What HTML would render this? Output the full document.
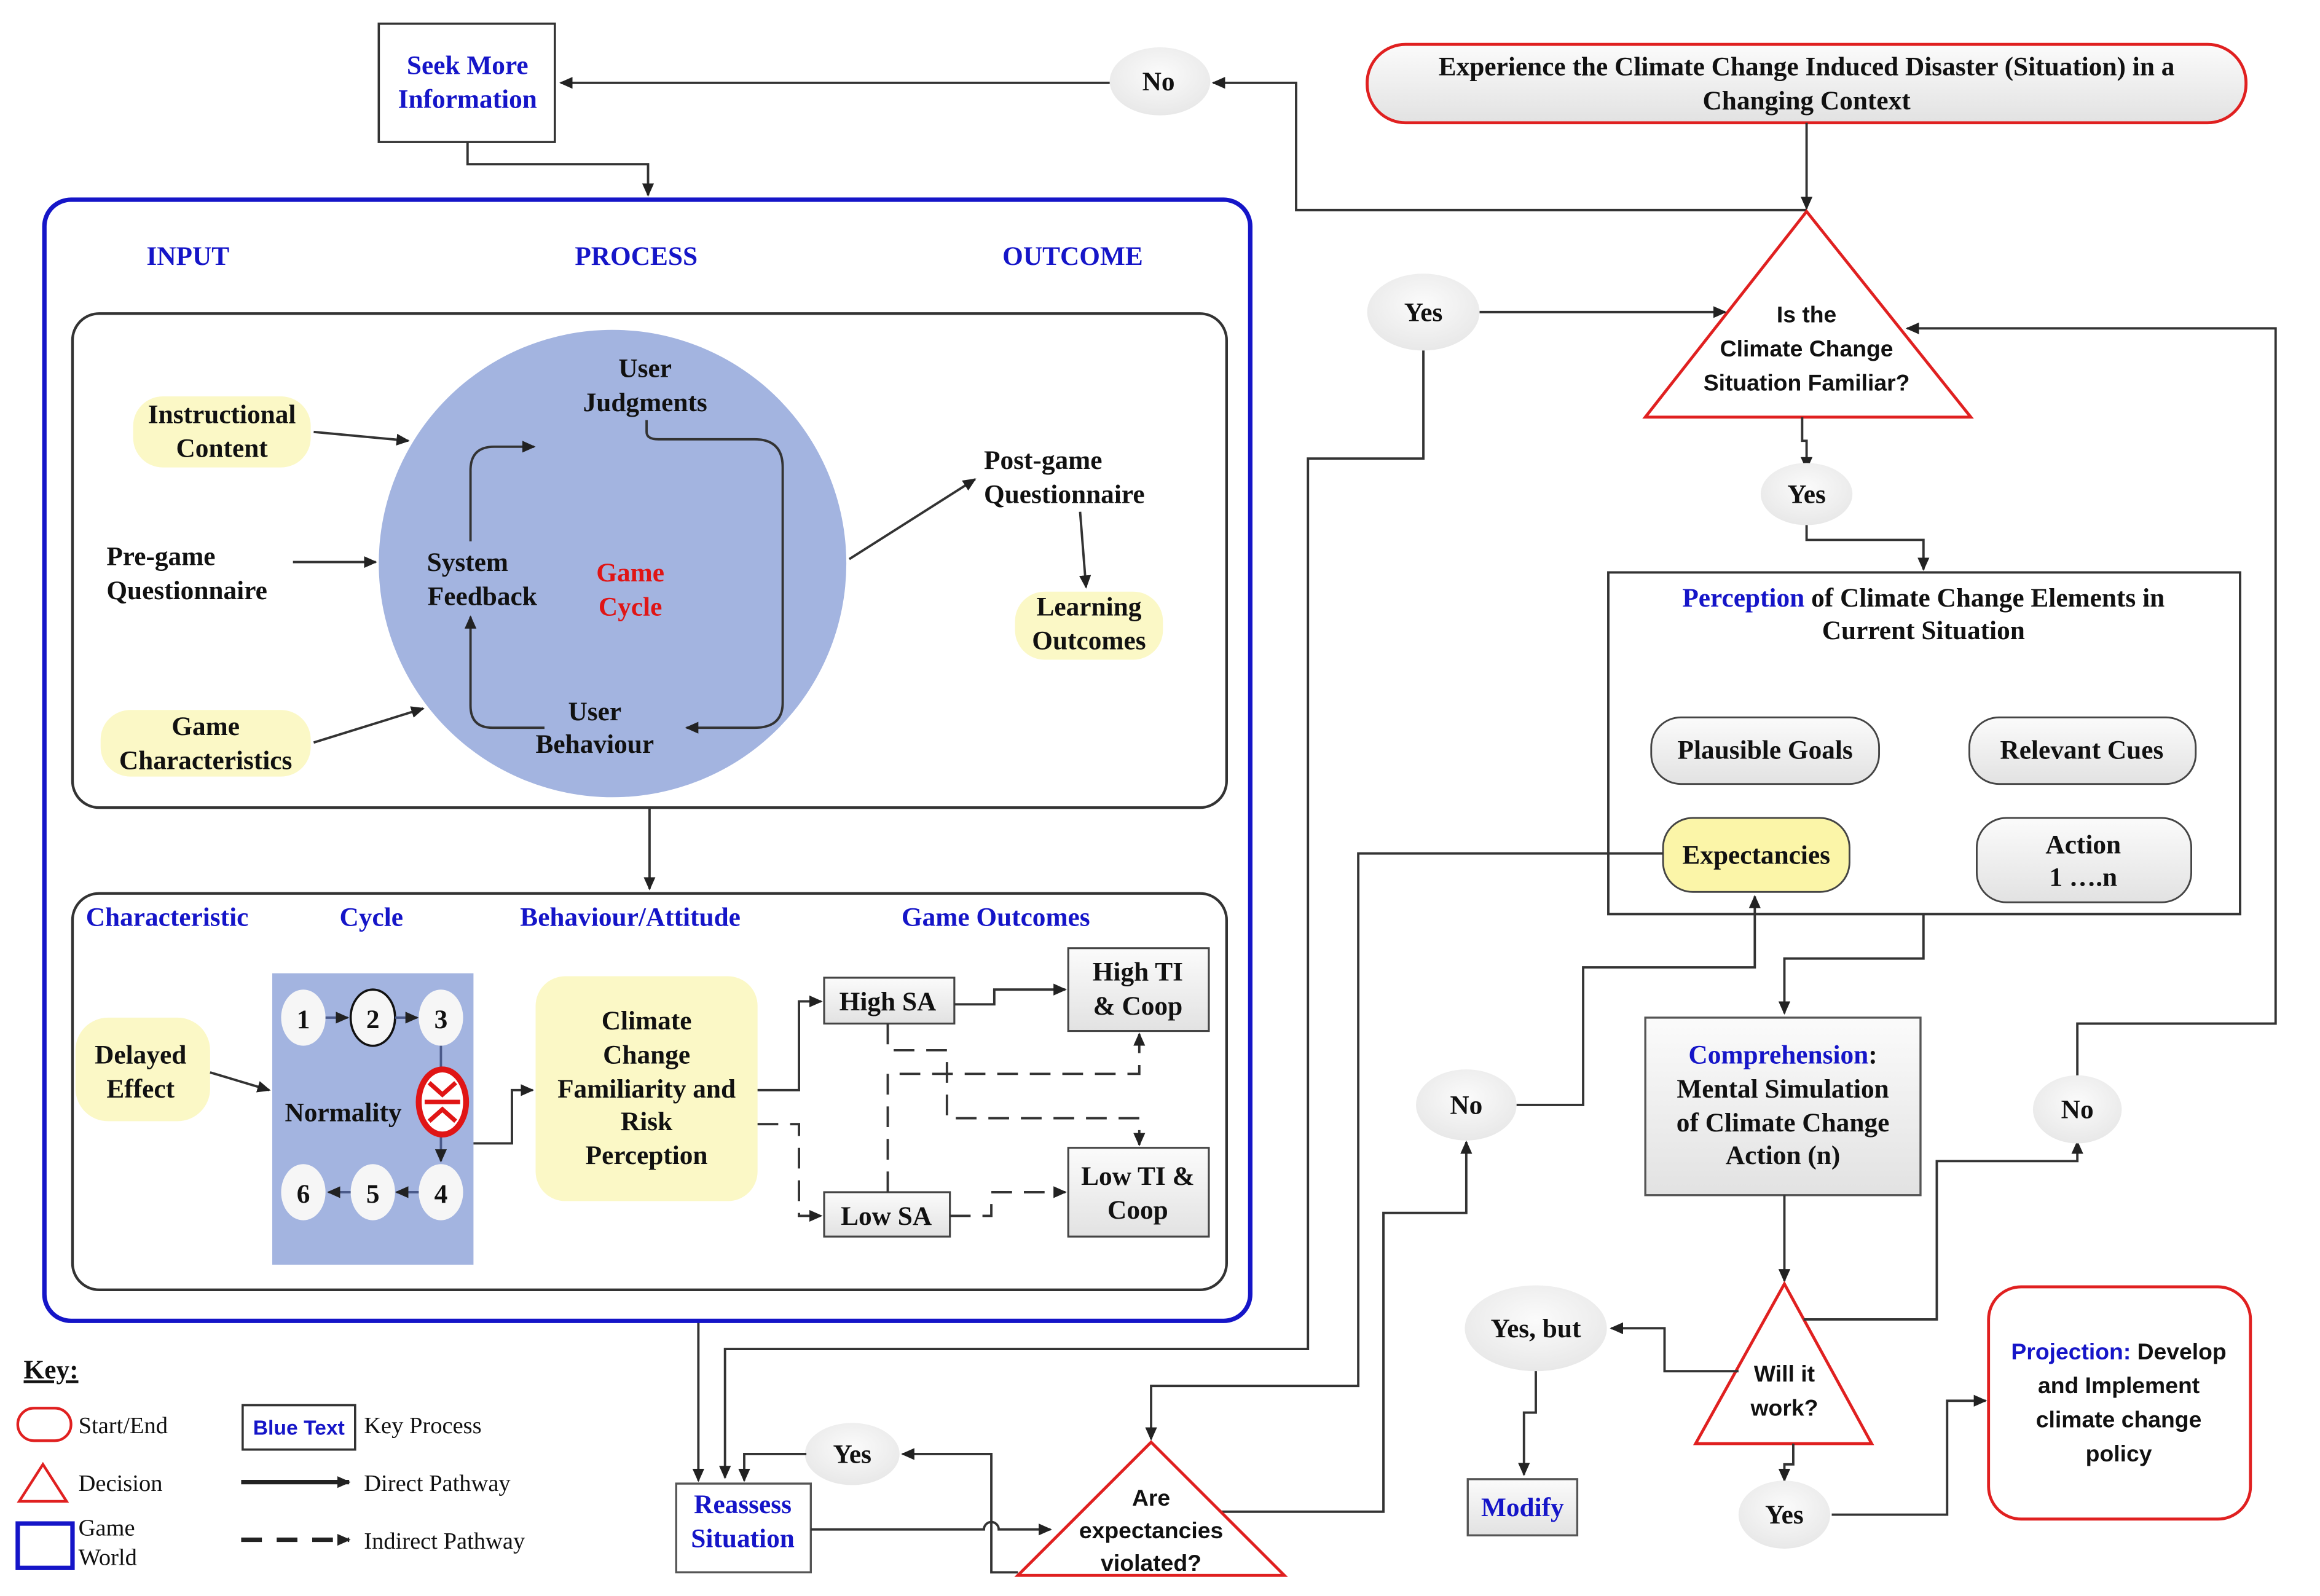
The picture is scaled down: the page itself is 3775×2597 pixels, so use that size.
<!DOCTYPE html>
<html><head><meta charset="utf-8"><style>
html,body{margin:0;padding:0;background:#fff}
svg{display:block}
text{font-family:"Liberation Serif",serif;font-weight:bold;font-size:18px;fill:#111;text-anchor:middle}
.b{fill:#1515c8}
.s{font-family:"Liberation Sans",sans-serif;font-size:15.5px}
.k{font-weight:normal;font-size:16px;text-anchor:start}
.l{fill:none;stroke:#333;stroke-width:1.6}
.d{fill:none;stroke:#333;stroke-width:1.6;stroke-dasharray:14 8}
</style></head><body>
<svg width="3775" height="2597" viewBox="0 0 1568 1079" preserveAspectRatio="none" xmlns="http://www.w3.org/2000/svg">
<defs>
<marker id="a" markerWidth="10" markerHeight="10" refX="8" refY="5" orient="auto" markerUnits="userSpaceOnUse"><path d="M0,1 L9,5 L0,9 Z" fill="#222"/></marker>
<linearGradient id="g" x1="0" y1="0" x2="0" y2="1"><stop offset="0" stop-color="#fbfbfb"/><stop offset="1" stop-color="#e2e2e2"/></linearGradient>
<radialGradient id="e" cx="0.5" cy="0.4" r="0.6"><stop offset="0" stop-color="#fbfbfb"/><stop offset="1" stop-color="#e8e8e8"/></radialGradient>
</defs>

<!-- Seek more -->
<rect x="256" y="16" width="119" height="80" fill="#fff" stroke="#333" stroke-width="1.5"/>
<text class="b" x="316" y="50">Seek More</text>
<text class="b" x="316" y="73">Information</text>
<ellipse cx="784" cy="55" rx="34" ry="23" fill="url(#e)"/>
<text x="783" y="61">No</text>
<path class="l" d="M750,56 H379" marker-end="url(#a)"/>
<path class="l" d="M1221,142 H876 V56 H820" marker-end="url(#a)"/>
<path class="l" d="M316,96 V111 H438 V132" marker-end="url(#a)"/>

<!-- start -->
<rect x="924" y="30" width="594" height="53" rx="26" fill="url(#g)" stroke="#e02020" stroke-width="2"/>
<text x="1221" y="51">Experience the Climate Change Induced Disaster (Situation) in a</text>
<text x="1221" y="74">Changing Context</text>
<path class="l" d="M1221,83 V141" marker-end="url(#a)"/>

<!-- triangle 1 -->
<polygon points="1221,143 1332,282 1112,282" fill="#fff" stroke="#e02020" stroke-width="2"/>
<text class="s" x="1221" y="218">Is the</text>
<text class="s" x="1221" y="241">Climate Change</text>
<text class="s" x="1221" y="264">Situation Familiar?</text>
<ellipse cx="962" cy="211" rx="38" ry="26" fill="url(#e)"/>
<text x="962" y="217">Yes</text>
<path class="l" d="M1000,211 H1166" marker-end="url(#a)"/>
<path class="l" d="M962,237 V310 H884 V912 H490 V999" marker-end="url(#a)"/>
<path class="l" d="M1218,282 V298 H1221 V317" marker-end="url(#a)"/>
<ellipse cx="1221" cy="334" rx="31" ry="21" fill="url(#e)"/>
<text x="1221" y="340">Yes</text>
<path class="l" d="M1221,355 V365 H1300 V385" marker-end="url(#a)"/>

<!-- perception -->
<rect x="1087" y="387" width="427" height="231" fill="#fff" stroke="#333" stroke-width="1.6"/>
<text x="1300" y="410"><tspan class="b">Perception</tspan> of Climate Change Elements in</text>
<text x="1300" y="432">Current Situation</text>
<rect x="1116" y="485" width="154" height="45" rx="20" fill="url(#g)" stroke="#444" stroke-width="1.2"/>
<text x="1193" y="513">Plausible Goals</text>
<rect x="1331" y="485" width="153" height="45" rx="20" fill="url(#g)" stroke="#444" stroke-width="1.2"/>
<text x="1407" y="513">Relevant Cues</text>
<rect x="1124" y="553" width="126" height="50" rx="20" fill="#fbf5a8" stroke="#444" stroke-width="1.2"/>
<text x="1187" y="584">Expectancies</text>
<rect x="1336" y="553" width="145" height="57" rx="20" fill="url(#g)" stroke="#444" stroke-width="1.2"/>
<text x="1408" y="577">Action</text>
<text x="1408" y="599">1 ….n</text>
<path class="l" d="M1124,577 H918 V937 H778 V973" marker-end="url(#a)"/>
<path class="l" d="M1300,618 V648 H1206 V685" marker-end="url(#a)"/>

<!-- comprehension -->
<rect x="1112" y="688" width="186" height="120" fill="url(#g)" stroke="#555" stroke-width="1.4"/>
<text class="b" x="1205" y="719">Comprehension<tspan style="fill:#111">:</tspan></text>
<text x="1205" y="742">Mental Simulation</text>
<text x="1205" y="765">of Climate Change</text>
<text x="1205" y="787">Action (n)</text>
<path class="l" d="M1206,808 V866" marker-end="url(#a)"/>

<!-- No left -->
<ellipse cx="991" cy="747" rx="34" ry="24" fill="url(#e)"/>
<text x="991" y="753">No</text>
<path class="l" d="M1025,747 H1070 V654 H1186 V606" marker-end="url(#a)"/>
<path class="l" d="M800,1022 H935 V820 H991 V772" marker-end="url(#a)"/>

<!-- will it work -->
<polygon points="1206,868 1265,976 1146,976" fill="#fff" stroke="#e02020" stroke-width="2"/>
<text class="s" x="1206" y="934">Will it</text>
<text class="s" x="1206" y="957">work?</text>
<path class="l" d="M1219,892 H1309 V785 H1404 V772" marker-end="url(#a)"/>
<ellipse cx="1404" cy="750" rx="30" ry="23" fill="url(#e)"/>
<text x="1404" y="756">No</text>
<path class="l" d="M1404,727 V692 H1538 V222 H1289" marker-end="url(#a)"/>
<path class="l" d="M1175,927 H1125 V898 H1089" marker-end="url(#a)"/>
<ellipse cx="1038" cy="898" rx="48" ry="29" fill="url(#e)"/>
<text x="1038" y="904">Yes, but</text>
<path class="l" d="M1038,927 V955 H1030 V997" marker-end="url(#a)"/>
<rect x="992" y="1000" width="74" height="38" fill="url(#g)" stroke="#555" stroke-width="1.4"/>
<text class="b" x="1029" y="1025">Modify</text>
<path class="l" d="M1212,976 V990 H1206 V1001" marker-end="url(#a)"/>
<ellipse cx="1206" cy="1024" rx="31" ry="23" fill="url(#e)"/>
<text x="1206" y="1030">Yes</text>
<path class="l" d="M1238,1024 H1316 V947 H1342" marker-end="url(#a)"/>
<rect x="1344" y="870" width="177" height="157" rx="22" fill="#fff" stroke="#e02020" stroke-width="2"/>
<text class="s" x="1432" y="919"><tspan class="b">Projection:</tspan> Develop</text>
<text class="s" x="1432" y="942">and Implement</text>
<text class="s" x="1432" y="965">climate change</text>
<text class="s" x="1432" y="988">policy</text>

<!-- are expectancies -->
<polygon points="778,975 868,1065 688,1065" fill="#fff" stroke="#e02020" stroke-width="2"/>
<text class="s" x="778" y="1018">Are</text>
<text class="s" x="778" y="1040">expectancies</text>
<text class="s" x="778" y="1062">violated?</text>
<rect x="457" y="1003" width="91" height="60" fill="#fff" stroke="#555" stroke-width="1.4"/>
<text class="b" x="502" y="1023">Reassess</text>
<text class="b" x="502" y="1046">Situation</text>
<path class="l" d="M548,1034 H665 A5,5 0 0 1 675,1034 H710" marker-end="url(#a)"/>
<path class="l" d="M688,1063 H670 V983 H610" marker-end="url(#a)"/>
<ellipse cx="576" cy="983" rx="32" ry="21" fill="url(#e)"/>
<text x="576" y="989">Yes</text>
<path class="l" d="M545,983 H503 V1001" marker-end="url(#a)"/>
<path class="l" d="M472,893 V1001" marker-end="url(#a)"/>

<!-- game world -->
<rect x="30" y="135" width="815" height="758" rx="18" fill="none" stroke="#1515c8" stroke-width="3"/>
<text class="b" x="127" y="179">INPUT</text>
<text class="b" x="430" y="179">PROCESS</text>
<text class="b" x="725" y="179">OUTCOME</text>
<rect x="49" y="212" width="780" height="334" rx="18" fill="none" stroke="#333" stroke-width="1.8"/>
<ellipse cx="414" cy="381" rx="158" ry="158" fill="#a3b4e0"/>
<text x="436" y="255">User</text>
<text x="436" y="278">Judgments</text>
<text x="316" y="386">System</text>
<text x="326" y="409">Feedback</text>
<text x="426" y="393" style="fill:#e01515">Game</text>
<text x="426" y="416" style="fill:#e01515">Cycle</text>
<text x="402" y="487">User</text>
<text x="402" y="509">Behaviour</text>
<path class="l" d="M318,366 V318 Q318,302 334,302 H361" marker-end="url(#a)"/>
<path class="l" d="M437,284 V292 Q437,297 445,297 H510 Q529,297 529,316 V475 Q529,492 510,492 H464" marker-end="url(#a)"/>
<path class="l" d="M368,492 H333 Q318,492 318,477 V417" marker-end="url(#a)"/>
<rect x="90" y="268" width="120" height="48" rx="20" fill="#fbf8c6"/>
<text x="150" y="286">Instructional</text>
<text x="150" y="309">Content</text>
<path class="l" d="M212,292 L276,298" marker-end="url(#a)"/>
<text x="72" y="382" style="text-anchor:start">Pre-game</text>
<text x="72" y="405" style="text-anchor:start">Questionnaire</text>
<path class="l" d="M198,380 H254" marker-end="url(#a)"/>
<rect x="68" y="480" width="142" height="45" rx="20" fill="#fbf8c6"/>
<text x="139" y="497">Game</text>
<text x="139" y="520">Characteristics</text>
<path class="l" d="M212,502 L286,479" marker-end="url(#a)"/>
<text x="665" y="317" style="text-anchor:start">Post-game</text>
<text x="665" y="340" style="text-anchor:start">Questionnaire</text>
<path class="l" d="M574,378 L659,324" marker-end="url(#a)"/>
<path class="l" d="M730,346 L734,397" marker-end="url(#a)"/>
<rect x="686" y="400" width="100" height="46" rx="20" fill="#fbf8c6"/>
<text x="736" y="416">Learning</text>
<text x="736" y="439">Outcomes</text>
<path class="l" d="M439,546 V601" marker-end="url(#a)"/>

<rect x="49" y="604" width="780" height="268" rx="18" fill="none" stroke="#333" stroke-width="1.8"/>
<text class="b" x="113" y="626">Characteristic</text>
<text class="b" x="251" y="626">Cycle</text>
<text class="b" x="426" y="626">Behaviour/Attitude</text>
<text class="b" x="673" y="626">Game Outcomes</text>
<rect x="51" y="688" width="91" height="70" rx="22" fill="#fbf8c6"/>
<text x="95" y="719">Delayed</text>
<text x="95" y="742">Effect</text>
<path class="l" d="M142,725 L182,737" marker-end="url(#a)"/>
<rect x="184" y="658" width="136" height="197" fill="#a3b4e0"/>
<g fill="#f6f6f6">
<ellipse cx="205" cy="688" rx="15" ry="19"/><ellipse cx="252" cy="688" rx="15" ry="19" stroke="#111" stroke-width="1.5"/><ellipse cx="298" cy="688" rx="15" ry="19"/>
<ellipse cx="298" cy="806" rx="15" ry="19"/><ellipse cx="252" cy="806" rx="15" ry="19"/><ellipse cx="205" cy="806" rx="15" ry="19"/>
</g>
<text x="205" y="695">1</text><text x="252" y="695">2</text><text x="298" y="695">3</text>
<text x="298" y="813">4</text><text x="252" y="813">5</text><text x="205" y="813">6</text>
<g stroke="#4a5a8a" stroke-width="1.6" fill="none">
<path d="M220,688 H235" marker-end="url(#a)"/><path d="M267,688 H282" marker-end="url(#a)"/>
<path d="M283,806 H268" marker-end="url(#a)"/><path d="M237,806 H222" marker-end="url(#a)"/>
<path d="M298,707 V785" marker-end="url(#a)"/>
</g>
<text x="232" y="758">Normality</text>
<ellipse cx="299" cy="745" rx="16" ry="22" fill="#fff" stroke="#e01515" stroke-width="4"/>
<path d="M290,732 L299,740 L308,732 M290,758 L299,750 L308,758 M287,745 H311" stroke="#e01515" stroke-width="3" fill="none"/>
<path class="l" d="M320,773 H346 V737 H360" marker-end="url(#a)"/>
<rect x="362" y="660" width="150" height="152" rx="20" fill="#fbf8c6"/>
<text x="437" y="696">Climate</text>
<text x="437" y="719">Change</text>
<text x="437" y="742">Familiarity and</text>
<text x="437" y="764">Risk</text>
<text x="437" y="787">Perception</text>
<rect x="557" y="661" width="88" height="31" fill="url(#g)" stroke="#444" stroke-width="1.3"/>
<text x="600" y="683">High SA</text>
<rect x="557" y="806" width="85" height="30" fill="url(#g)" stroke="#444" stroke-width="1.3"/>
<text x="599" y="828">Low SA</text>
<rect x="722" y="641" width="95" height="56" fill="url(#g)" stroke="#444" stroke-width="1.3"/>
<text x="769" y="663">High TI</text>
<text x="769" y="686">&amp; Coop</text>
<rect x="722" y="776" width="95" height="60" fill="url(#g)" stroke="#444" stroke-width="1.3"/>
<text x="769" y="801">Low TI &amp;</text>
<text x="769" y="824">Coop</text>
<path class="l" d="M512,737 H540 V677 H555" marker-end="url(#a)"/>
<path class="l" d="M645,679 H672 V669 H720" marker-end="url(#a)"/>
<path class="d" d="M512,760 H540 V822 H555" marker-end="url(#a)"/>
<path class="d" d="M642,822 H670 V806 H720" marker-end="url(#a)"/>
<path class="d" d="M600,692 V710 H640 V756 H770 V774" marker-end="url(#a)"/>
<path class="d" d="M600,806 V726 H770 V699" marker-end="url(#a)"/>

<!-- key -->
<text x="16" y="932" style="text-anchor:start;text-decoration:underline">Key:</text>
<rect x="12" y="952" width="36" height="22" rx="11" fill="#fff" stroke="#e02020" stroke-width="1.8"/>
<text class="k" x="53" y="969">Start/End</text>
<polygon points="29,990 45,1015 13,1015" fill="#fff" stroke="#e02020" stroke-width="1.8"/>
<text class="k" x="53" y="1008">Decision</text>
<rect x="12" y="1030" width="37" height="30" fill="#fff" stroke="#1515c8" stroke-width="3"/>
<text class="k" x="53" y="1038">Game</text>
<text class="k" x="53" y="1058">World</text>
<rect x="164" y="950" width="76" height="30" fill="#fff" stroke="#333" stroke-width="1.5"/>
<text class="s b" x="202" y="970" style="font-size:14px">Blue Text</text>
<text class="k" x="246" y="969">Key Process</text>
<path d="M163,1002 H236" stroke="#222" stroke-width="3" marker-end="url(#a)"/>
<text class="k" x="246" y="1008">Direct Pathway</text>
<path d="M163,1041 H236" stroke="#222" stroke-width="3" stroke-dasharray="14 10" marker-end="url(#a)"/>
<text class="k" x="246" y="1047">Indirect Pathway</text>
</svg>
</body></html>
